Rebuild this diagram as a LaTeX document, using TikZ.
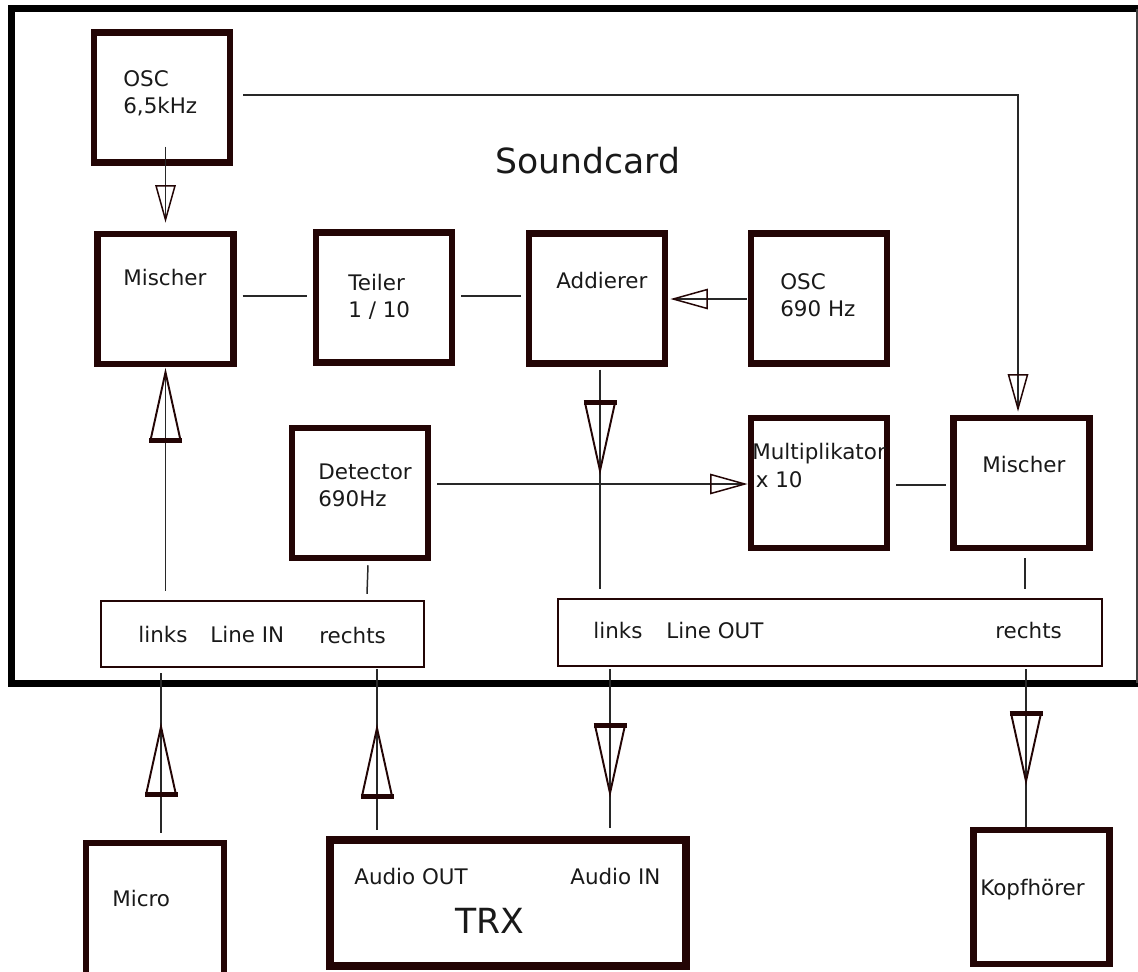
\documentclass[tikz,border=0pt]{standalone}
\usepackage{fontspec}
\setmainfont{DejaVu Sans}
\usetikzlibrary{calc,decorations.markings}

\definecolor{boxc}{RGB}{35,5,5}
\definecolor{linec}{RGB}{40,40,40}
\definecolor{textc}{RGB}{25,25,25}

\tikzset{
  blk/.style={draw=boxc, line width=3.7pt, minimum width=2.72cm, minimum height=2.6cm, inner sep=0pt},
  port/.style={draw=boxc, line width=1.4pt, inner sep=0pt},
  lbl/.style={text=textc, inner sep=0pt, anchor=west, align=left, font=\fontsize{12.2}{15.5}\selectfont},
  big/.style={text=textc, inner sep=0pt, font=\fontsize{19.7}{24}\selectfont},
  conn/.style={draw=linec, line width=0.85pt},
  bigtri/.style={postaction={decorate, decoration={markings, mark=at position #1 with {
        \draw[boxc, line width=1.1pt] (-1.36cm,-0.3cm) -- (0,0) -- (-1.36cm,0.3cm);
        \draw[boxc, line width=2.8pt] (-1.36cm,-0.33cm) -- (-1.36cm,0.33cm);}}}},
  smalltri/.style={postaction={decorate, decoration={markings, mark=at position #1 with {
        \draw[boxc, line width=0.85pt] (-0.68cm,-0.19cm) -- (0,0) -- (-0.68cm,0.19cm) -- cycle;}}}},
}

\begin{document}
\begin{tikzpicture}[x=0.02cm, y=-0.02cm]
  \useasboundingbox (0,0) rectangle (1138,971);
  % soundcard frame, right side only thin
  \draw[line width=3.97pt] (1145,8.5) -- (11.5,8.5) -- (11.5,683) -- (1145,683);
  \draw[line width=0.8pt, black!75] (1137,8.5) -- (1137,683);
  \node[big] (sc) at (587.5,161) {Soundcard};

  \foreach \n/\x/\y in {oscA/162/97.5, mischL/165.5/299, teiler/384/297.5, addierer/597/298.5,
                        osc690/819/298.5, detector/360/493, multip/819/483, mischR/1021.5/483}{
      \node[blk] (\n) at (\x,\y) {};
  }
  \node[blk, minimum height=2.68cm] (kopf) at (1041.5,897) {};
  \node[blk, minimum width=2.76cm, minimum height=3.2cm] (micro) at (155,923) {};
  \node[blk, line width=4.5pt, minimum width=7.11cm, minimum height=2.52cm] (trx) at (508,903) {};
  \node[port, minimum width=6.46cm, minimum height=1.32cm] (lineIN) at (262.5,634) {};
  \node[port, minimum width=10.88cm, minimum height=1.34cm] (lineOUT) at (830,632.5) {};

  % labels
  \node[lbl] (oscA-t) at (123,93) {OSC\\6,5kHz};
  \node[lbl] (mischL-t) at (123,277) {Mischer};
  \node[lbl] (teiler-t) at (348,297) {Teiler\\1 / 10};
  \node[lbl] (addierer-t) at (556,280) {Addierer};
  \node[lbl] (osc690-t) at (780,295.5) {OSC\\690 Hz};
  \node[lbl] (detector-t) at (318,485.5) {Detector\\690Hz};
  \node[lbl] (multip-t) at (752,465.5) {Multiplikator\\\hspace{2pt}x 10};
  \node[lbl] (mischR-t) at (982,464) {Mischer};
  \node[lbl] (inL-t) at (138,634) {links};
  \node[lbl] (in-t) at (210,634) {Line IN};
  \node[lbl] (inR-t) at (319,635) {rechts};
  \node[lbl] (outL-t) at (593,630) {links};
  \node[lbl] (out-t) at (666,630) {Line OUT};
  \node[lbl] (outR-t) at (995,630) {rechts};
  \node[lbl] (micro-t) at (112,898.5) {Micro};
  \node[lbl] (aout-t) at (354,876) {Audio OUT};
  \node[lbl] (ain-t) at (570,876) {Audio IN};
  \node[big] (trx-t) at (490,920.5) {TRX};
  \node[lbl] (kopf-t) at (980,890) {Kopfhörer};

  % signal paths
  \draw[conn, smalltri=1] ($(oscA.east)+(10,-2.5)$) -| ($(mischR.north)+(-3.5,-6)$);
  \draw[conn, smalltri=1] ($(oscA.south -| mischL.north)+(0,-19)$) -- ($(mischL.north)+(0,-11)$);
  \draw[conn] ($(mischL.east)+(6,-3)$) -- ($(teiler.west)+(-6,-1.5)$);
  \draw[conn] ($(teiler.east)+(6,-1.5)$) -- ($(addierer.west)+(-5,-2.5)$);
  \draw[conn, smalltri=1] ($(osc690.west)+(-1,0.5)$) -- ($(addierer.east)+(5,0.5)$);
  \draw[conn, bigtri=2.02cm] ($(addierer.south)+(3,3)$) -- ($(lineOUT.north -| addierer.south)+(3,-9)$);
  \draw[conn, smalltri=1] ($(detector.east |- multip.west)+(6,1)$) -- ($(multip.west)+(-3,1)$);
  \draw[conn] ($(multip.east)+(6,2)$) -- ($(mischR.west)+(-4,2)$);
  \draw[conn] ($(mischR.south)+(3.5,7)$) -- ($(lineOUT.north -| mischR.south)+(3.5,-9)$);
  \draw[conn, bigtri=1] ($(lineIN.north -| mischL.south)+(0,-9)$) -- ($(mischL.south)+(0,5)$);
  \draw[conn] ($(detector.south)+(8,4)$) -- ($(lineIN.north -| detector.south)+(7,-6)$);
  \draw[conn, bigtri=2.12cm] ($(micro.north)+(6,-7)$) -- ($(lineIN.south -| micro.north)+(6,5)$);
  \draw[conn, bigtri=2.04cm] ($(trx.north -| lineIN.south)+(114.5,-6)$) -- ($(lineIN.south)+(114.5,1)$);
  \draw[conn, bigtri=2.48cm] ($(lineOUT.south)+(-220,2)$) -- ($(trx.north -| lineOUT.south)+(-220,-8)$);
  \draw[conn, bigtri=2.24cm] ($(lineOUT.south)+(196,2)$) -- ($(kopf.north)+(-15.5,0)$);
\end{tikzpicture}
\end{document}
